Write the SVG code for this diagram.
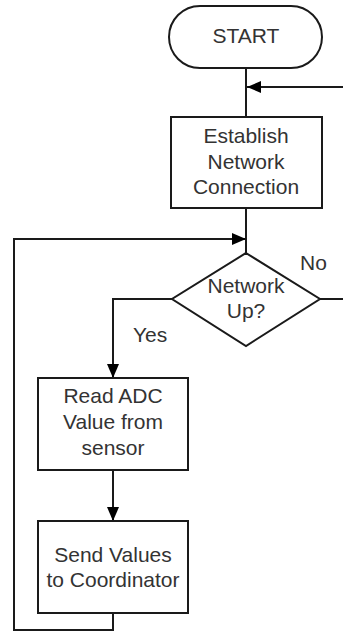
<svg xmlns="http://www.w3.org/2000/svg" width="343" height="632" viewBox="0 0 343 632">
<style>
.shape{fill:#fff;stroke:#1a1a1a;stroke-width:2}
.line{fill:none;stroke:#1a1a1a;stroke-width:2}
.t{font-family:"Liberation Sans",Arial,sans-serif;font-size:21px;fill:#333;text-anchor:middle}
.lbl{font-family:"Liberation Sans",Arial,sans-serif;font-size:21px;fill:#333}
</style>
<defs>
<marker id="arr" viewBox="0 0 14 12" refX="14" refY="6" markerWidth="14" markerHeight="12" markerUnits="userSpaceOnUse" orient="auto">
<path d="M0,0 L14,6 L0,12 Z" fill="#000"/>
</marker>
</defs>
<g id="connectors">
<line class="line" x1="246" y1="68" x2="246" y2="117"/>
<line class="line" x1="343" y1="87" x2="247" y2="87" marker-end="url(#arr)"/>
<line class="line" x1="246" y1="208" x2="246" y2="253"/>
<polyline class="line" points="113,613 113,630 14,630 14,239 246,239" marker-end="url(#arr)"/>
<line class="line" x1="320" y1="299" x2="343" y2="299"/>
<polyline class="line" points="172,299 113,299 113,378" marker-end="url(#arr)"/>
<line class="line" x1="113" y1="470" x2="113" y2="521" marker-end="url(#arr)"/>
<text class="lbl" x="300" y="270">No</text>
<text class="lbl" x="133" y="342">Yes</text>
</g>
<g id="start">
<rect class="shape" x="169" y="6" width="153" height="62" rx="31" ry="31"/>
<text class="t" x="246" y="43">START</text>
</g>
<g id="establish">
<rect class="shape" x="171" y="117" width="151" height="91"/>
<text class="t" x="246" y="143">Establish</text>
<text class="t" x="246" y="168.5">Network</text>
<text class="t" x="246" y="194">Connection</text>
</g>
<g id="network-up">
<polygon class="shape" points="246,253 320,299 246,346 172,299"/>
<text class="t" x="246" y="293">Network</text>
<text class="t" x="246" y="318">Up?</text>
</g>
<g id="read-adc">
<rect class="shape" x="38" y="378" width="150" height="92"/>
<text class="t" x="113" y="403">Read ADC</text>
<text class="t" x="113" y="429">Value from</text>
<text class="t" x="113" y="455">sensor</text>
</g>
<g id="send-values">
<rect class="shape" x="38" y="521" width="150" height="92"/>
<text class="t" x="113" y="562">Send Values</text>
<text class="t" x="113" y="587">to Coordinator</text>
</g>
</svg>
